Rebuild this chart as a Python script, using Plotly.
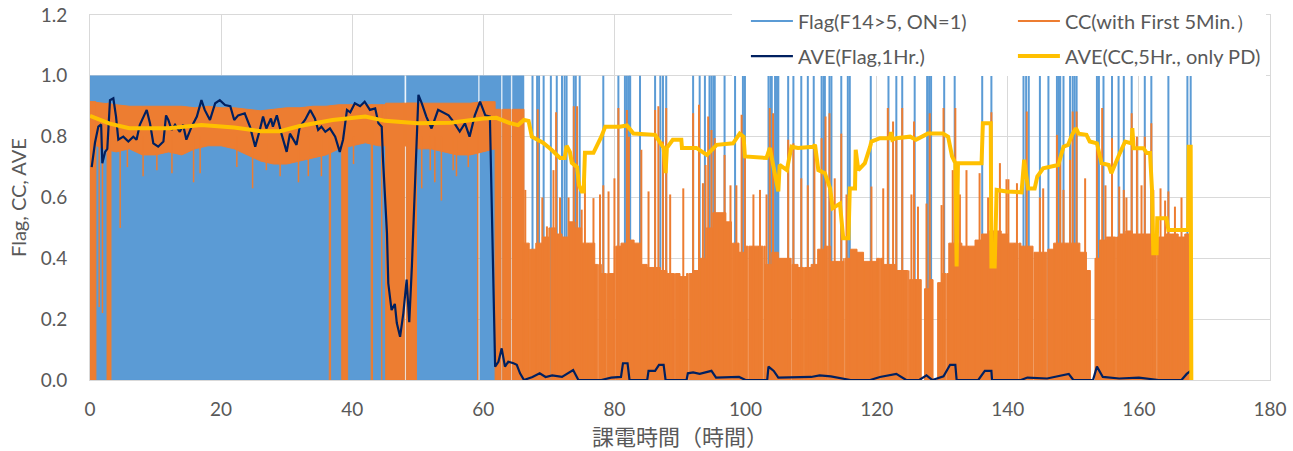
import plotly.graph_objects as go

# ---------------- data (hours) ----------------
# Flag(F14>5, ON=1): spans where the flag toggles densely between 0 and 1
flag_dense_blocks = [(0.0, 47.95), (48.25, 59.2), (59.45, 62.7), (62.95, 64.2), (64.45, 66.2)]
# isolated ON (=1) events after 66 h
flag_on_times = [67.5, 68.2, 68.5, 69.2, 70.3, 71.2, 72.0, 72.4, 72.7, 73.8, 74.1, 74.7,
                 78.3, 80.6, 81.6, 81.9, 82.2, 82.4, 83.9, 86.2, 87.0, 87.4, 87.9, 92.0,
                 93.0, 93.8, 94.5, 94.8, 95.1, 95.3, 96.8, 98.4, 99.6, 99.9, 103.5, 103.8,
                 104.0, 104.5, 104.8, 105.0, 106.5, 107.3, 108.5, 109.5, 110.4, 111.6, 111.9,
                 112.1, 112.8, 113.1, 114.6, 115.6, 115.9, 119.1, 121.8, 123.0, 123.9, 125.8,
                 127.7, 128.0, 128.3, 130.3, 131.9, 136.1, 137.5, 142.4, 142.8, 143.2, 144.9,
                 146.2, 147.5, 147.8, 148.0, 148.5, 149.5, 149.9, 150.2, 150.5, 153.6, 153.9,
                 154.6, 155.9, 156.9, 157.7, 158.9, 160.9, 161.9, 164.5, 167.4, 167.9]

# CC(with First 5Min.): dense band during 0-62 h (upper / lower envelope)
cc_band_hours = [0, 2, 4, 6, 8, 10, 12, 14, 16, 18, 20, 22, 24, 26, 28, 30, 32, 34, 36, 38,
                 40, 42, 44, 46, 48, 50, 52, 54, 56, 58, 60, 61.8]
cc_band_upper = [0.915, 0.91, 0.905, 0.90, 0.90, 0.90, 0.90, 0.90, 0.895, 0.90, 0.895, 0.895,
                 0.89, 0.885, 0.89, 0.895, 0.895, 0.90, 0.90, 0.905, 0.905, 0.905, 0.905, 0.905,
                 0.91, 0.91, 0.91, 0.91, 0.91, 0.91, 0.915, 0.915]
cc_band_lower = [0.78, 0.76, 0.75, 0.76, 0.74, 0.74, 0.75, 0.74, 0.76, 0.77, 0.77, 0.76, 0.74,
                 0.72, 0.71, 0.71, 0.72, 0.73, 0.74, 0.76, 0.77, 0.78, 0.77, 0.77, 0.77, 0.76,
                 0.76, 0.75, 0.74, 0.74, 0.75, 0.76]
# spans where CC swings all the way down to 0 (start, end, top level)
cc_full_blocks = [(0.0, 0.9, 0.915), (2.6, 3.2, 0.91), (36.5, 36.7, 0.90), (38.4, 39.3, 0.90),
                  (42.9, 43.1, 0.905), (44.5, 44.6, 0.905), (45.1, 47.95, 0.91), (48.25, 49.8, 0.91),
                  (59.15, 59.25, 0.91), (61.8, 62.7, 0.89), (62.95, 64.2, 0.89), (64.45, 66.2, 0.89)]
# single deep dips below the band (hour, lowest value)
cc_dips = [(1.4, 0.24), (1.9, 0.22), (4.6, 0.50), (5.7, 0.70), (8.1, 0.67), (10.2, 0.69),
           (12.5, 0.68), (15.8, 0.65), (16.8, 0.68), (22.4, 0.70), (24.8, 0.63), (26.9, 0.69),
           (29.0, 0.67), (31.8, 0.65), (33.3, 0.67), (35.3, 0.67), (40.2, 0.71), (50.6, 0.63),
           (51.9, 0.69), (52.6, 0.65), (53.6, 0.59), (55.4, 0.69), (55.9, 0.67), (57.7, 0.70)]
# after 66 h: hourly level of the dense lower body of CC
cc_body_hours = list(range(66, 168))
cc_body_levels = [0.45, 0.43, 0.45, 0.47, 0.50, 0.48, 0.47, 0.52, 0.50, 0.45,
                  0.45, 0.38, 0.35, 0.35, 0.44, 0.45, 0.46, 0.45, 0.38, 0.37,
                  0.37, 0.36, 0.35, 0.35, 0.34, 0.35, 0.36, 0.40, 0.50, 0.55,
                  0.55, 0.52, 0.45, 0.42, 0.44, 0.44, 0.44, 0.38, 0.42, 0.40,
                  0.40, 0.38, 0.37, 0.37, 0.38, 0.43, 0.44, 0.39, 0.39, 0.40,
                  0.43, 0.42, 0.39, 0.39, 0.40, 0.38, 0.38, 0.36, 0.36, 0.33,
                  0.33, 0.30, 0.33, 0.32, 0.35, 0.45, 0.45, 0.44, 0.44, 0.46,
                  0.48, 0.49, 0.49, 0.48, 0.45, 0.45, 0.44, 0.44, 0.42, 0.42,
                  0.43, 0.45, 0.45, 0.45, 0.45, 0.42, 0.36, 0.40, 0.46, 0.47,
                  0.47, 0.48, 0.49, 0.48, 0.48, 0.48, 0.46, 0.47, 0.48, 0.48,
                  0.47, 0.48]
cc_data_end = 167.8
# no-data gaps after 66 h (start, end)
cc_gaps = [(67.05, 67.2), (70.15, 70.3), (77.45, 77.6), (78.75, 78.9), (80.05, 80.2),
           (89.15, 89.3), (91.25, 91.4), (94.35, 94.5), (97.85, 98.0), (100.35, 100.5),
           (102.65, 102.8), (106.95, 107.1), (108.85, 109.0), (112.55, 112.7), (115.05, 115.2),
           (120.45, 120.6), (124.75, 124.9), (126.8, 127.3), (128.6, 129.3), (130.55, 130.7),
           (141.55, 141.7), (143.85, 144.0), (145.95, 146.1), (152.6, 153.3), (156.45, 156.6),
           (162.65, 162.8)]
# individual tall CC peaks after 66 h (hour, value)
cc_peaks = [(66.4, 0.625), (68.3, 0.89), (69.0, 0.60), (69.7, 0.505), (70.7, 0.69), (71.1, 0.88),
            (71.7, 0.60), (73.0, 0.60), (73.8, 0.90), (74.3, 0.90), (75.0, 0.56), (75.5, 0.66),
            (76.8, 0.598), (77.8, 0.61), (78.3, 0.64), (79.1, 0.62), (80.0, 0.663), (80.6, 0.894),
            (81.9, 0.888), (82.2, 0.80), (84.1, 0.757), (85.2, 0.62), (86.2, 0.888), (86.7, 0.90),
            (87.4, 0.784), (87.9, 0.894), (88.5, 0.61), (90.5, 0.63), (92.0, 0.877), (92.9, 0.905),
            (93.5, 0.647), (93.9, 0.707), (94.3, 0.866), (94.8, 0.822), (95.3, 0.795), (96.8, 0.74),
            (97.7, 0.64), (98.6, 0.64), (99.4, 0.872), (99.9, 0.767), (101.2, 0.61), (102.2, 0.625),
            (103.2, 0.61), (103.7, 0.894), (104.2, 0.877), (106.5, 0.79), (107.3, 0.778),
            (108.5, 0.663), (109.5, 0.64), (110.5, 0.762), (111.6, 0.795), (112.2, 0.866),
            (112.8, 0.877), (113.6, 0.663), (114.6, 0.81), (115.4, 0.61), (119.2, 0.636),
            (121.0, 0.63), (121.7, 0.894), (122.5, 0.85), (123.0, 0.795), (123.9, 0.894),
            (125.3, 0.61), (125.7, 0.85), (126.3, 0.57), (127.6, 0.58), (128.1, 0.877),
            (129.9, 0.575), (130.2, 0.894), (131.6, 0.69), (132.0, 0.894), (132.7, 0.61),
            (133.7, 0.69), (135.7, 0.68), (137.0, 0.60), (137.5, 0.88), (138.8, 0.713),
            (139.8, 0.66), (140.1, 0.66), (141.4, 0.647), (142.9, 0.883), (144.9, 0.60),
            (145.4, 0.63), (147.5, 0.806), (148.0, 0.74), (148.5, 0.625), (149.5, 0.724),
            (149.9, 0.883), (150.5, 0.883), (151.8, 0.663), (153.6, 0.762), (154.4, 0.894),
            (154.9, 0.64), (155.9, 0.795), (157.0, 0.636), (157.7, 0.625), (158.1, 0.60),
            (158.9, 0.877), (159.7, 0.80), (160.4, 0.64), (160.9, 0.80), (161.9, 0.844),
            (162.2, 0.625), (163.3, 0.63), (164.0, 0.59), (164.5, 0.62), (165.5, 0.57),
            (166.5, 0.60), (167.5, 0.48)]

# AVE(Flag,1Hr.)
ave_flag_hours = [0.26, 0.76, 1.27, 1.7, 1.88, 2.3, 2.64, 3.05, 3.56, 3.97, 4.32, 5.08, 5.85, 6.6,
                  7.1, 7.6, 8.65, 9.15, 9.66, 10.4, 11.2, 11.6, 11.95, 12.46, 12.97, 13.7, 14.2,
                  14.7, 15.5, 16.3, 17.0, 17.5, 18.3, 19.1, 19.8, 20.6, 21.4, 22.0, 22.6, 23.6,
                  24.4, 25.2, 25.9, 26.4, 26.9, 27.6, 27.9, 28.5, 29.2, 30.0, 30.5, 31.0, 31.5,
                  32.0, 32.8, 33.6, 34.3, 34.8, 35.3, 35.9, 36.6, 37.4, 38.1, 38.6, 39.2, 39.7,
                  40.4, 41.2, 41.9, 42.7, 43.5, 44.0, 44.5, 44.7, 45.3, 45.5, 46.0, 46.5, 46.8,
                  47.3, 47.8, 48.3, 48.7, 49.1, 49.6, 50.1, 50.6, 51.3, 52.1, 53.1, 54.7, 55.4,
                  56.4, 57.2, 57.9, 58.7, 59.5, 60.3, 61.0, 61.8, 62.3, 62.8, 63.3, 63.8, 64.6,
                  65.1, 65.6, 66.2, 67.5, 68.6, 69.5, 70.5, 72.0, 73.7, 74.5, 78.0, 79.5, 81.0,
                  81.3, 82.0, 82.3, 85.0, 85.2, 86.2, 86.8, 87.5, 87.8, 91.0, 91.2, 92.0, 93.0,
                  94.8, 95.5, 99.0, 100.0, 103.3, 103.5, 104.3, 105.0, 110.0, 111.3, 113.0,
                  116.0, 119.0, 120.5, 123.0, 124.5, 126.5, 127.6, 128.5, 130.2, 131.2, 132.0,
                  132.2, 135.5, 136.5, 137.5, 137.6, 142.0, 143.0, 146.0, 149.3, 150.0, 153.0,
                  153.6, 154.5, 157.0, 160.0, 163.0, 166.5, 167.3, 167.9]
ave_flag_values = [0.70, 0.78, 0.833, 0.84, 0.713, 0.75, 0.76, 0.92, 0.926, 0.866, 0.79, 0.80,
                   0.784, 0.80, 0.79, 0.839, 0.888, 0.844, 0.778, 0.767, 0.784, 0.87, 0.855,
                   0.822, 0.839, 0.816, 0.839, 0.79, 0.833, 0.866, 0.92, 0.888, 0.855, 0.91,
                   0.92, 0.904, 0.90, 0.855, 0.87, 0.877, 0.833, 0.767, 0.822, 0.866, 0.827,
                   0.86, 0.833, 0.87, 0.81, 0.75, 0.81, 0.79, 0.773, 0.833, 0.855, 0.888, 0.86,
                   0.822, 0.833, 0.816, 0.827, 0.80, 0.75, 0.79, 0.888, 0.88, 0.91, 0.90, 0.915,
                   0.888, 0.893, 0.844, 0.833, 0.724, 0.482, 0.318, 0.23, 0.25, 0.187, 0.142,
                   0.22, 0.33, 0.19, 0.373, 0.647, 0.9375, 0.91, 0.866, 0.827, 0.888, 0.87, 0.85,
                   0.817, 0.844, 0.80, 0.87, 0.915, 0.87, 0.866, 0.044, 0.06, 0.104, 0.044, 0.06,
                   0.055, 0.05, 0.022, 0.0, 0.01, 0.022, 0.01, 0.015, 0.01, 0.033, 0.0, 0.0,
                   0.008, 0.01, 0.055, 0.055, 0.0, 0.0, 0.03, 0.03, 0.05, 0.05, 0.0, 0.0, 0.022,
                   0.025, 0.02, 0.03, 0.008, 0.01, 0.0, 0.0, 0.044, 0.03, 0.008, 0.01, 0.015,
                   0.012, 0.0, 0.0, 0.01, 0.02, 0.0, 0.0, 0.015, 0.0, 0.012, 0.05, 0.05, 0.0, 0.0,
                   0.03, 0.03, 0.0, 0.0, 0.008, 0.005, 0.02, 0.0, 0.0, 0.044, 0.01, 0.005, 0.008,
                   0.0, 0.0, 0.02, 0.03]

# AVE(CC,5Hr., only PD)
ave_cc_hours = [0, 1.5, 3, 6, 12, 17, 22, 26, 29, 32, 37, 42, 45, 50, 55, 60, 62, 64, 65.3, 66.2,
                66.9, 67.4, 69.1, 70.4, 71.7, 72.4, 72.7, 73.2, 73.5, 74.3, 74.6, 75.0, 75.3,
                75.5, 76.8, 78.0, 78.6, 80.8, 81.9, 82.9, 86.2, 87.5, 87.8, 88.0, 88.9, 90.2,
                90.3, 92.5, 94.1, 95.6, 98.1, 99.1, 99.7, 99.9, 103.2, 103.7, 104.0, 104.5,
                105.0, 105.2, 106.3, 107.0, 108.0, 110.3, 110.6, 111.1, 112.1, 112.9, 113.3,
                114.4, 114.9, 115.7, 115.9, 116.7, 116.8, 117.2, 118.2, 119.0, 119.2, 120.5,
                122.0, 122.2, 122.4, 123.0, 125.1, 126.0, 127.8, 130.1, 130.9, 131.5, 132.0,
                132.2, 132.4, 136.0, 136.2, 137.4, 137.5, 138.0, 138.3, 139.8, 142.1, 142.5,
                143.1, 144.1, 144.5, 145.4, 146.4, 147.7, 148.5, 149.2, 149.8, 150.4, 150.8,
                152.0, 152.5, 153.6, 154.3, 155.4, 155.8, 156.3, 157.1, 157.9, 158.9, 159.0,
                159.2, 160.7, 161.2, 161.7, 162.0, 162.2, 162.7, 162.8, 164.2, 164.5, 167.5,
                167.6, 167.9, 168.0]
ave_cc_values = [0.868, 0.855, 0.843, 0.828, 0.828, 0.838, 0.83, 0.818, 0.818, 0.835, 0.855,
                 0.866, 0.852, 0.844, 0.846, 0.86, 0.862, 0.845, 0.838, 0.855, 0.852, 0.80,
                 0.78, 0.757, 0.73, 0.73, 0.77, 0.75, 0.714, 0.70, 0.64, 0.62, 0.62, 0.747,
                 0.747, 0.80, 0.833, 0.833, 0.837, 0.81, 0.806, 0.763, 0.68, 0.763, 0.79, 0.79,
                 0.763, 0.763, 0.74, 0.773, 0.778, 0.81, 0.80, 0.735, 0.73, 0.763, 0.73, 0.658,
                 0.62, 0.707, 0.69, 0.767, 0.763, 0.767, 0.773, 0.69, 0.68, 0.63, 0.565, 0.58,
                 0.466, 0.466, 0.63, 0.63, 0.757, 0.69, 0.713, 0.767, 0.784, 0.795, 0.795, 0.815,
                 0.79, 0.795, 0.80, 0.79, 0.81, 0.81, 0.80, 0.735, 0.713, 0.373, 0.713, 0.713,
                 0.844, 0.844, 0.373, 0.373, 0.625, 0.62, 0.617, 0.724, 0.63, 0.63, 0.669, 0.696,
                 0.70, 0.707, 0.767, 0.773, 0.806, 0.828, 0.81, 0.806, 0.784, 0.778, 0.713,
                 0.707, 0.68, 0.707, 0.746, 0.784, 0.778, 0.828, 0.762, 0.762, 0.746, 0.746,
                 0.625, 0.417, 0.417, 0.532, 0.532, 0.493, 0.493, 0.767, 0.767, 0.0]

# ---------------- styling ----------------
BLUE = "#5B9BD5"
ORANGE = "#ED7D31"
NAVY = "#002060"
GOLD = "#FFC000"
GRID = "#D9D9D9"
TXT = "#595959"
FONT = "Lato, 'Open Sans', sans-serif"


def rects(blocks):
    xs, ys = [], []
    for a, b, h in blocks:
        xs += [a, a, b, b, a, None]
        ys += [0, h, h, 0, 0, None]
    return xs, ys


def vlines(items):
    xs, ys = [], []
    for t, y0, y1 in items:
        xs += [t, t, None]
        ys += [y0, y1, None]
    return xs, ys


def subtract_gaps(a, b, gaps):
    pieces = [(a, b)]
    for g0, g1 in gaps:
        nxt = []
        for p0, p1 in pieces:
            if g1 <= p0 or g0 >= p1:
                nxt.append((p0, p1))
            else:
                if g0 > p0:
                    nxt.append((p0, g0))
                if g1 < p1:
                    nxt.append((g1, p1))
        pieces = nxt
    return pieces


fig = go.Figure()

# --- Flag ---
fx, fy = rects([(a, b, 1.0) for a, b in flag_dense_blocks])
fig.add_trace(go.Scatter(x=fx, y=fy, mode="lines", fill="toself", fillcolor=BLUE,
                         line=dict(color=BLUE, width=0.5), showlegend=False,
                         legendgroup="flag", hoverinfo="skip"))
sx, sy = vlines([(t, 0.0, 1.0) for t in flag_on_times])
fig.add_trace(go.Scatter(x=sx, y=sy, mode="lines", line=dict(color=BLUE, width=2),
                         name="Flag(F14>5, ON=1)", legendgroup="flag", legend="legend",
                         hoverinfo="skip"))

# --- CC ---
bx = cc_band_hours + cc_band_hours[::-1] + [cc_band_hours[0]]
by = cc_band_upper + cc_band_lower[::-1] + [cc_band_upper[0]]
fig.add_trace(go.Scatter(x=bx, y=by, mode="lines", fill="toself", fillcolor=ORANGE,
                         line=dict(color=ORANGE, width=1), showlegend=False,
                         legendgroup="cc", hoverinfo="skip"))
cx, cy = rects(cc_full_blocks)
fig.add_trace(go.Scatter(x=cx, y=cy, mode="lines", fill="toself", fillcolor=ORANGE,
                         line=dict(color=ORANGE, width=1), showlegend=False,
                         legendgroup="cc", hoverinfo="skip"))
dx, dy = vlines([(t, d, 0.8) for t, d in cc_dips])
fig.add_trace(go.Scatter(x=dx, y=dy, mode="lines", line=dict(color=ORANGE, width=1.5),
                         showlegend=False, legendgroup="cc", hoverinfo="skip"))
body_blocks = []
for h, lvl in zip(cc_body_hours, cc_body_levels):
    for p0, p1 in subtract_gaps(h, min(h + 1, cc_data_end), cc_gaps):
        body_blocks.append((p0, p1, lvl))
ox, oy = rects(body_blocks)
fig.add_trace(go.Scatter(x=ox, y=oy, mode="lines", fill="toself", fillcolor=ORANGE,
                         line=dict(color=ORANGE, width=1), showlegend=False,
                         legendgroup="cc", hoverinfo="skip"))
px_, py_ = vlines([(t, 0.0, v) for t, v in cc_peaks])
fig.add_trace(go.Scatter(x=px_, y=py_, mode="lines", line=dict(color=ORANGE, width=2),
                         name="CC(with First 5Min.）", legendgroup="cc", legend="legend",
                         hoverinfo="skip"))

# --- averages ---
fig.add_trace(go.Scatter(x=ave_flag_hours, y=ave_flag_values, mode="lines",
                         line=dict(color=NAVY, width=2.2), name="AVE(Flag,1Hr.)",
                         legend="legend2"))
fig.add_trace(go.Scatter(x=ave_cc_hours, y=ave_cc_values, mode="lines",
                         line=dict(color=GOLD, width=4), name="AVE(CC,5Hr., only PD)",
                         legend="legend2"))

leg_common = dict(orientation="h", xanchor="left", yanchor="top", bgcolor="white",
                  entrywidth=196, entrywidthmode="pixels", itemwidth=42, indentation=14,
                  font=dict(family=FONT, size=20, color=TXT), borderwidth=0)

fig.update_layout(
    width=1293, height=451,
    margin=dict(l=90, r=23, t=15, b=71, autoexpand=False),
    paper_bgcolor="white", plot_bgcolor="white",
    font=dict(family=FONT, size=19, color=TXT),
    legend=dict(x=0.544, y=1.037, **leg_common),
    legend2=dict(x=0.544, y=0.941, **leg_common),
    xaxis=dict(range=[0, 180], tick0=0, dtick=20, showgrid=True, gridcolor=GRID,
               gridwidth=1, zeroline=False, showline=True, mirror=True, linecolor=GRID,
               ticks="", ticklabelstandoff=12, tickfont=dict(size=19, color=TXT),
               automargin=False,
               title=dict(text="課電時間（時間）", standoff=5,
                          font=dict(family="Noto Sans CJK JP", size=22, color=TXT))),
    yaxis=dict(range=[0, 1.2], tick0=0, dtick=0.2, tickformat=".1f", showgrid=True,
               gridcolor=GRID, gridwidth=1, zeroline=False, showline=True, mirror=True,
               linecolor=GRID, ticks="", ticklabelstandoff=18, automargin=False,
               tickfont=dict(size=19, color=TXT),
               title=dict(text="Flag, CC, AVE", standoff=8,
                          font=dict(family=FONT, size=20, color=TXT))),
)

fig.write_html("out.html", config={"displayModeBar": False},
               post_script="document.body.style.margin='0';")
